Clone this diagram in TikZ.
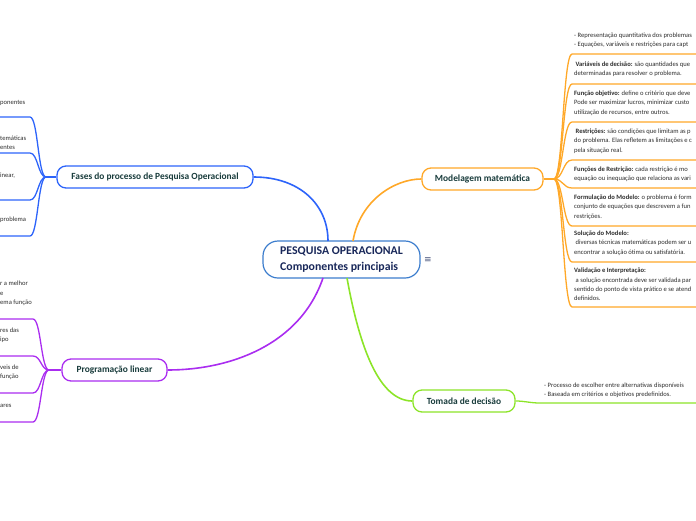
\documentclass[tikz,border=0pt]{standalone}
\usepackage{fontspec}
\setmainfont{Carlito}
\newfontfamily\symfont{DejaVu Sans}
\definecolor{cblue}{RGB}{45,100,250}
\definecolor{corange}{RGB}{255,168,40}
\definecolor{cpurple}{RGB}{170,45,240}
\definecolor{cgreen}{RGB}{140,228,40}
\definecolor{cborder}{RGB}{60,125,205}
\definecolor{ntext}{RGB}{25,60,60}
\definecolor{ctext}{RGB}{25,40,90}
\definecolor{itext}{RGB}{45,45,45}
\begin{document}
\begin{tikzpicture}[x=1pt,y=-1pt,
  branch/.style={draw, rounded corners=9pt, line width=1.3pt, fill=white, inner sep=0pt,
    minimum height=22pt, font=\bfseries\fontsize{9.4}{10}\selectfont, text=ntext},
  centernode/.style={draw=cborder, rounded corners=15pt, line width=1.2pt, fill=white, inner sep=0pt,
    minimum width=157pt, minimum height=37pt},
  item/.style={anchor=west, inner sep=0pt, align=left, text=itext, font=\fontsize{6.6}{9.3}\selectfont},
  conn/.style={line width=1.6pt},
  sub/.style={line width=1.3pt}
]
\useasboundingbox (0,0) rectangle (696,520);
\clip (0,0) rectangle (696,520);

% central node
\node[centernode] (c) at (341.5,259.5) {};
\node[anchor=west, inner sep=0pt, align=left, font=\bfseries\fontsize{11.8}{16}\selectfont, text=ctext] (ct) at (280,260) {PESQUISA OPERACIONAL\\Componentes principais};
\node[inner sep=0pt, font=\symfont\fontsize{9}{9}\selectfont, text=ctext!80] (menu) at (428,260) {≡};

% branch nodes
\node[branch, draw=cblue, minimum width=196pt] (fa) at (155,177) {Fases do processo de Pesquisa Operacional};
\node[branch, draw=corange, minimum width=121pt] (mo) at (482.5,179) {Modelagem matemática};
\node[branch, draw=cpurple, minimum width=105pt] (pl) at (114.5,370) {Programação linear};
\node[branch, draw=cgreen, minimum width=102pt] (td) at (464,401) {Tomada de decisão};

% connectors center -> branches
\coordinate (cb) at (328,241);
\coordinate (co) at (353,241);
\coordinate (cp) at (323,278);
\coordinate (cg) at (347,278);
\draw[conn, cblue] (cb) .. controls (328,205) and (300,177) .. (fa.east);
\draw[conn, corange] (co) .. controls (360,200) and (395,179) .. (mo.west);
\draw[conn, cpurple] (cp) .. controls (300,345) and (230,370) .. (pl.east);
\draw[conn, cgreen] (cg) .. controls (360,350) and (380,401) .. (td.west);

% ---------- Modelagem items ----------
\coordinate (mf) at (554,179);
\draw[sub, corange] (mo.east) -- (mf);
\foreach \n/\y in {1/54,2/84,3/122,4/160,5/188,6/226,7/262,8/307}{
  \coordinate (me\n) at (572,\y);
  \coordinate (mr\n) at (696,\y);
  \draw[sub, corange] (mf) .. controls (563,179) and (563,\y) .. (me\n) -- (mr\n);
}
\node[item] (m1) at (574,40.5) {- Representação quantitativa dos problemas\\- Equações, variáveis e restrições para capt};
\node[item] (m2) at (574,69) {\ \textbf{Variáveis de decisão:} são quantidades que\\determinadas para resolver o problema.};
\node[item] (m3) at (574,103) {\textbf{Função objetivo:} define o critério que deve\\Pode ser maximizar lucros, minimizar custo\\utilização de recursos, entre outros.};
\node[item] (m4) at (574,141) {\ \textbf{Restrições:} são condições que limitam as p\\do problema. Elas refletem as limitações e c\\pela situação real.};
\node[item] (m5) at (574,174) {\textbf{Funções de Restrição:} cada restrição é mo\\equação ou inequação que relaciona as vari};
\node[item] (m6) at (574,207) {\textbf{Formulação do Modelo:} o problema é form\\conjunto de equações que descrevem a fun\\restrições.};
\node[item] (m7) at (574,243) {\textbf{Solução do Modelo:}\\\ diversas técnicas matemáticas podem ser u\\encontrar a solução ótima ou satisfatória.};
\node[item] (m8) at (574,284.5) {\textbf{Validação e Interpretação:}\\\ a solução encontrada deve ser validada par\\sentido do ponto de vista prático e se atend\\definidos.};

% ---------- Tomada items ----------
\coordinate (tr) at (696,403);
\draw[sub, cgreen] (td.east) .. controls (525,401) and (530,403) .. (540,403) -- (tr);
\node[item] (t1) at (544,390) {- Processo de escolher entre alternativas disponíveis\\- Baseada em critérios e objetivos predefinidos.};

% ---------- Fases items ----------
\coordinate (ff) at (46,177);
\draw[sub, cblue] (fa.west) -- (ff);
\foreach \n/\y in {1/117,2/153,3/200,4/236}{
  \coordinate (fe\n) at (30,\y);
  \coordinate (fl\n) at (0,\y);
  \draw[sub, cblue] (ff) .. controls (38,177) and (38,\y) .. (fe\n) -- (fl\n);
}
\node[item] (f1) at (0,103) {ponentes};
\node[item] (f2) at (0,142.5) {temáticas\\entes};
\node[item] (f3) at (0,176) {inear,};
\node[item] (f4) at (0,220) {problema};

% ---------- Programacao items ----------
\coordinate (pf) at (49,370);
\draw[sub, cpurple] (pl.west) -- (pf);
\foreach \n/\y in {1/319,2/356,3/393,4/422}{
  \coordinate (pe\n) at (33,\y);
  \coordinate (pw\n) at (0,\y);
  \draw[sub, cpurple] (pf) .. controls (41,370) and (41,\y) .. (pe\n) -- (pw\n);
}
\node[item] (p1) at (0,293.5) {r a melhor\\e\\ema função};
\node[item] (p2) at (0,335.5) {res das\\ipo};
\node[item] (p3) at (0,372.5) {veis de\\função};
\node[item] (p4) at (0,406) {ares};
\end{tikzpicture}
\end{document}
